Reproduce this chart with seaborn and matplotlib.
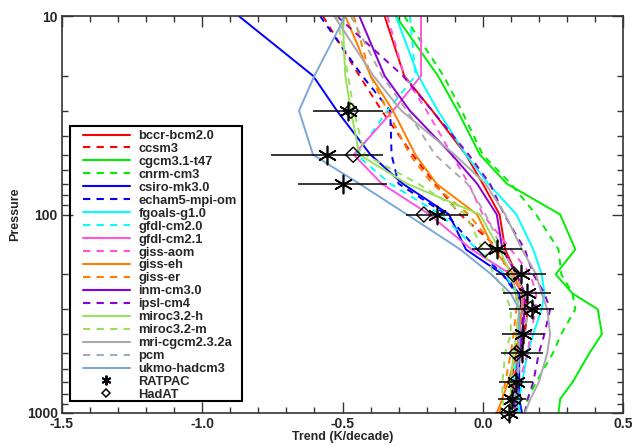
import numpy as np
import pandas as pd
import seaborn as sns
import matplotlib.pyplot as plt
from matplotlib.lines import Line2D
from matplotlib.patches import Rectangle
from matplotlib.ticker import MultipleLocator, FixedLocator, FixedFormatter, NullFormatter

sns.set_style("ticks")
plt.rcParams['font.family'] = ['Liberation Sans', 'DejaVu Sans']
plt.rcParams['font.weight'] = 'bold'
plt.rcParams['axes.labelweight'] = 'bold'

# pressure levels (hPa)
levels = [10, 20, 30, 50, 70, 100, 150, 200, 250, 300, 400, 500, 700, 850, 1000]

bccr_bcm2_0 = [-0.35, -0.28, -0.18, -0.06, 0.0, 0.06, 0.08, 0.12, 0.15, 0.16, 0.15, 0.13, 0.11, 0.11, 0.12]
ccsm3 = [-0.57, -0.44, -0.36, -0.25, -0.17, -0.08, 0.06, 0.09, 0.12, 0.13, 0.12, 0.12, 0.10, 0.10, 0.10]
cgcm3_1_t47 = [-0.31, -0.16, -0.09, -0.01, 0.086, 0.276, 0.33, 0.26, 0.32, 0.41, 0.425, 0.38, 0.32, 0.276, 0.27]
cnrm_cm3 = [-0.28, -0.14, -0.075, 0.0, 0.10, 0.19, 0.27, 0.28, 0.32, 0.33, 0.28, 0.25, 0.19, 0.16, 0.15]
csiro_mk3_0 = [-0.87, -0.605, -0.52, -0.40, -0.285, -0.12, -0.06, 0.07, 0.13, 0.14, 0.13, 0.13, 0.13, 0.13, 0.14]
echam5_mpi_om = [-0.58, -0.43, -0.33, -0.325, -0.30, -0.13, -0.02, 0.07, 0.12, 0.14, 0.14, 0.13, 0.12, 0.12, 0.12]
fgoals_g1_0 = [-0.31, -0.23, -0.16, -0.06, 0.02, 0.12, 0.18, 0.21, 0.22, 0.21, 0.18, 0.16, 0.14, 0.13, 0.13]
gfdl_cm2_0 = [-0.26, -0.24, -0.34, -0.45, -0.33, -0.15, -0.02, 0.08, 0.12, 0.13, 0.13, 0.12, 0.11, 0.11, 0.11]
gfdl_cm2_1 = [-0.22, -0.22, -0.32, -0.46, -0.36, -0.19, -0.04, 0.10, 0.14, 0.15, 0.14, 0.13, 0.12, 0.12, 0.12]
giss_aom = [-0.34, -0.28, -0.20, -0.11, -0.05, 0.0, 0.10, 0.17, 0.19, 0.19, 0.17, 0.16, 0.13, 0.12, 0.12]
giss_eh = [-0.49, -0.40, -0.32, -0.24, -0.165, -0.02, 0.04, 0.11, 0.14, 0.14, 0.13, 0.12, 0.09, 0.07, 0.05]
giss_er = [-0.46, -0.40, -0.34, -0.26, -0.18, -0.05, 0.05, 0.10, 0.12, 0.12, 0.11, 0.10, 0.08, 0.07, 0.06]
inm_cm3_0 = [-0.44, -0.35, -0.26, -0.11, -0.02, 0.05, 0.07, 0.12, 0.15, 0.15, 0.14, 0.13, 0.12, 0.11, 0.12]
ipsl_cm4 = [-0.52, -0.285, -0.18, -0.05, 0.026, 0.076, 0.15, 0.18, 0.22, 0.24, 0.22, 0.20, 0.18, 0.16, 0.15]
miroc3_2_h = [-0.50, -0.49, -0.47, -0.44, -0.27, -0.01, 0.06, 0.10, 0.12, 0.13, 0.12, 0.11, 0.10, 0.10, 0.10]
miroc3_2_m = [-0.52, -0.48, -0.46, -0.42, -0.23, -0.06, 0.0, 0.04, 0.08, 0.10, 0.10, 0.08, 0.07, 0.07, 0.08]
mri_cgcm2_3_2a = [-0.53, -0.39, -0.29, -0.10, 0.01, 0.08, 0.14, 0.19, 0.21, 0.23, 0.24, 0.23, 0.20, 0.17, 0.15]
pcm = [-0.47, -0.36, -0.27, -0.17, -0.055, 0.01, 0.07, 0.12, 0.15, 0.16, 0.15, 0.14, 0.12, 0.11, 0.10]
ukmo_hadcm3 = [-0.49, -0.60, -0.655, -0.605, -0.44, -0.27, -0.08, 0.03, 0.10, 0.13, 0.13, 0.13, 0.12, 0.12, 0.12]

models = ["bccr-bcm2.0", "ccsm3", "cgcm3.1-t47", "cnrm-cm3", "csiro-mk3.0", "echam5-mpi-om",
          "fgoals-g1.0", "gfdl-cm2.0", "gfdl-cm2.1", "giss-aom", "giss-eh", "giss-er",
          "inm-cm3.0", "ipsl-cm4", "miroc3.2-h", "miroc3.2-m", "mri-cgcm2.3.2a", "pcm", "ukmo-hadcm3"]
trends = [bccr_bcm2_0, ccsm3, cgcm3_1_t47, cnrm_cm3, csiro_mk3_0, echam5_mpi_om,
          fgoals_g1_0, gfdl_cm2_0, gfdl_cm2_1, giss_aom, giss_eh, giss_er,
          inm_cm3_0, ipsl_cm4, miroc3_2_h, miroc3_2_m, mri_cgcm2_3_2a, pcm, ukmo_hadcm3]
colors = ["#ff0000", "#ff0000", "#00ee00", "#00ee00", "#0000ff", "#0000ff",
          "#00ffff", "#00ffff", "#ff55dd", "#ff55dd", "#ff8000", "#ff8000",
          "#8a00d4", "#8a00d4", "#99e060", "#99e060", "#aaaaaa", "#aaaaaa", "#7ca8d8"]
dashed = [False, True] * 9 + [False]

# observations
ratpac_p = [30, 50, 70, 100, 150, 200, 250, 300, 400, 500, 700, 850, 1000]
ratpac_t = [-0.48, -0.556, -0.50, -0.164, 0.05, 0.137, 0.157, 0.175, 0.145, 0.139, 0.119, 0.104, 0.094]
ratpac_err = [0.125, 0.20, 0.16, 0.11, 0.09, 0.09, 0.085, 0.08, 0.075, 0.075, 0.06, 0.05, 0.05]
hadat_p = [30, 50, 100, 150, 200, 300, 500, 700, 850, 1000]
hadat_t = [-0.47, -0.462, -0.21, 0.008, 0.11, 0.17, 0.12, 0.115, 0.115, 0.09]

xticks = [-1.5, -1.0, -0.5, 0.0, 0.5]
xticklabels = ["-1.5", "-1.0", "-0.5", "0.0", "0.5"]

df = pd.DataFrame({
    "model": np.repeat(models, len(levels)),
    "pressure": levels * len(models),
    "trend": np.concatenate(trends),
})

fig = plt.figure(figsize=(6.33, 4.45), dpi=100)
ax = fig.add_axes([62 / 633, 1 - 413 / 445, 561 / 633, 397 / 445])
ax.set_yscale("log")

for m, c, d in zip(models, colors, dashed):
    sns.lineplot(data=df[df["model"] == m], x="trend", y="pressure", orient="y",
                 estimator=None, sort=False, color=c, lw=1.4,
                 dashes=False, ax=ax, legend=False,
                 linestyle=(0, (3.5, 3)) if d else "-")

ax.errorbar(ratpac_t, ratpac_p, xerr=ratpac_err, fmt="none", ecolor="black",
            elinewidth=1.1, capsize=0, zorder=5)
sns.scatterplot(x=hadat_t, y=hadat_p, marker="D", s=60, facecolors="none",
                edgecolor="black", linewidth=1.0, ax=ax, zorder=6, clip_on=False)
sns.scatterplot(x=ratpac_t, y=ratpac_p, marker=(6, 2, 0), s=170, color="black",
                linewidth=1.2, ax=ax, zorder=7, clip_on=False)

ax.set_xlim(-1.5, 0.5)
ax.set_ylim(1000, 10)
ax.xaxis.set_major_locator(FixedLocator(xticks))
ax.xaxis.set_major_formatter(FixedFormatter(xticklabels))
ax.xaxis.set_minor_locator(MultipleLocator(0.1))
ax.yaxis.set_major_locator(FixedLocator([10, 100, 1000]))
ax.yaxis.set_major_formatter(FixedFormatter(["10", "100", "1000"]))
ax.yaxis.set_minor_formatter(NullFormatter())
ax.tick_params(which="both", direction="in", top=True, right=True, labelsize=10, width=1.0, color="#333333")
ax.tick_params(which="major", length=8, pad=3)
ax.tick_params(which="minor", length=4)
for lbl in ax.get_xticklabels() + ax.get_yticklabels():
    lbl.set_fontweight("bold")
for sp in ax.spines.values():
    sp.set_linewidth(1.2)
    sp.set_color("#333333")

ax.set_xlabel("Trend (K/decade)", fontsize=9, fontweight="bold", labelpad=0)
ax.set_ylabel("Pressure", fontsize=9, fontweight="bold", labelpad=4)

handles = [Line2D([], [], color=c, lw=1.5, linestyle=(0, (3.5, 3)) if d else "-")
           for c, d in zip(colors, dashed)]
handles.append(Line2D([], [], color="black", marker=(6, 2, 0), markersize=7, linestyle="none", mew=1.4))
handles.append(Line2D([], [], color="black", marker="D", markersize=4.5, mfc="none", linestyle="none", mew=1.1))
leg = fig.legend(handles, models + ["RATPAC", "HadAT"], loc="upper left",
                 bbox_to_anchor=(83 / 633, 1 - 130 / 445), bbox_transform=fig.transFigure,
                 frameon=False, handlelength=3.6, handletextpad=0.7,
                 labelspacing=0.07, borderpad=0.0, borderaxespad=0.0,
                 prop={"weight": "bold", "size": 9.3})
fig.patches.append(Rectangle((70 / 633, 1 - 401 / 445), 172 / 633, 275 / 445,
                             transform=fig.transFigure, fill=False, edgecolor="black",
                             lw=1.5, zorder=10))

fig.savefig("out.png", dpi=100)
